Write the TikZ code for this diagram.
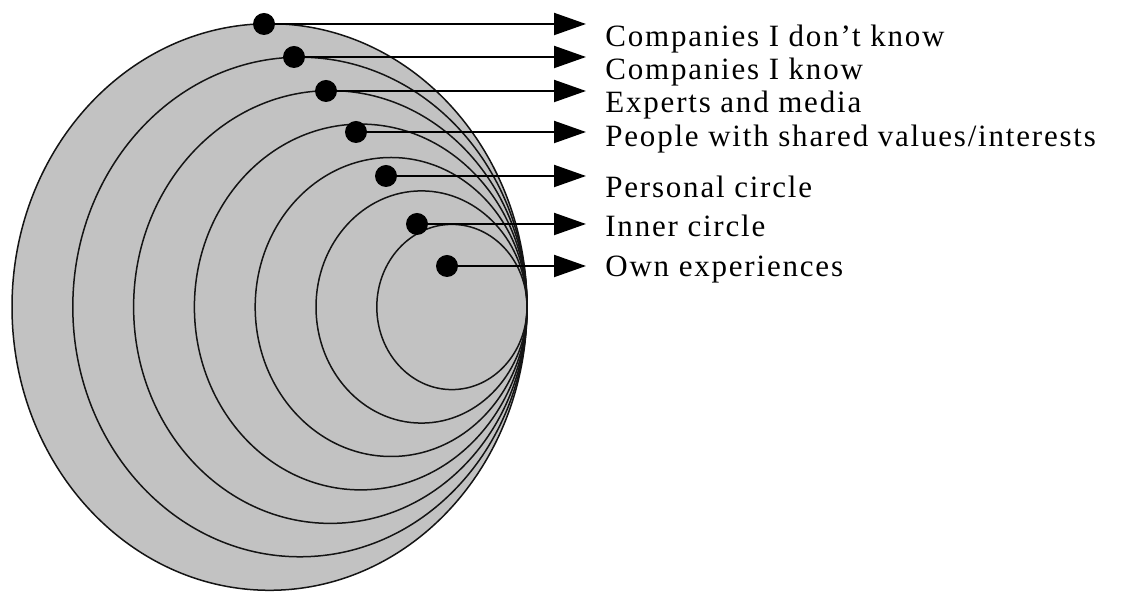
\documentclass[tikz,border=0pt]{standalone}
\usepackage{fontspec}
\setmainfont[LetterSpace=5.8]{Liberation Serif}
\usetikzlibrary{arrows.meta}
\definecolor{discfill}{RGB}{194,194,194}
\definecolor{discline}{RGB}{20,20,20}
\tikzset{
  ring/.style ={draw=discline, line width=0.75pt},
  dot/.style  ={circle, fill=black, inner sep=0pt, minimum size=11pt},
  ptr/.style  ={draw=black, line width=1pt, -{Triangle[length=16pt,width=11pt]}},
  lab/.style  ={anchor=base west, inner sep=0pt, font=\fontsize{15.5}{18}\selectfont},
}
\begin{document}
\begin{tikzpicture}[x=0.5pt,y=-0.5pt]
  \useasboundingbox (0,0) rectangle (1137,592);
  \fill[white] (0,0) rectangle (1137,592);
  % nested rings, all touching on the right
  \filldraw[ring, fill=discfill] (269.5,307) ellipse [x radius=257.5, y radius=283.3];
  \draw[ring] (299.9,307) ellipse [x radius=227.1, y radius=249.8];
  \draw[ring] (330.3,307) ellipse [x radius=196.7, y radius=216.4];
  \draw[ring] (360.7,307) ellipse [x radius=166.3, y radius=182.9];
  \draw[ring] (391.1,307) ellipse [x radius=135.9, y radius=149.5];
  \draw[ring] (421.5,307) ellipse [x radius=105.5, y radius=116.1];
  \draw[ring] (451.9,307) ellipse [x radius=75.1, y radius=82.6];
  % markers
  \node[dot] (d1) at (264,24) {};
  \node[dot] (d2) at (294,57) {};
  \node[dot] (d3) at (326,91) {};
  \node[dot] (d4) at (356,132) {};
  \node[dot] (d5) at (386,176) {};
  \node[dot] (d6) at (417,224) {};
  \node[dot] (d7) at (447,266) {};
  \coordinate (t1) at (586,24);
  \coordinate (t2) at (586,57);
  \coordinate (t3) at (586,91);
  \coordinate (t4) at (586,132);
  \coordinate (t5) at (586,176);
  \coordinate (t6) at (586,224);
  \coordinate (t7) at (586,266);
  \draw[ptr] (d1) -- (t1);
  \draw[ptr] (d2) -- (t2);
  \draw[ptr] (d3) -- (t3);
  \draw[ptr] (d4) -- (t4);
  \draw[ptr] (d5) -- (t5);
  \draw[ptr] (d6) -- (t6);
  \draw[ptr] (d7) -- (t7);
  % labels
  \node[lab] (l1) at (605,47) {Companies I don't know};
  \node[lab] (l2) at (605,80) {Companies I know};
  \node[lab] (l3) at (605,113) {Experts and media};
  \node[lab] (l4) at (605,147) {People with shared values/interests};
  \node[lab] (l5) at (605,198) {Personal circle};
  \node[lab] (l6) at (605,237) {Inner circle};
  \node[lab] (l7) at (605,277) {Own experiences};
\end{tikzpicture}
\end{document}
